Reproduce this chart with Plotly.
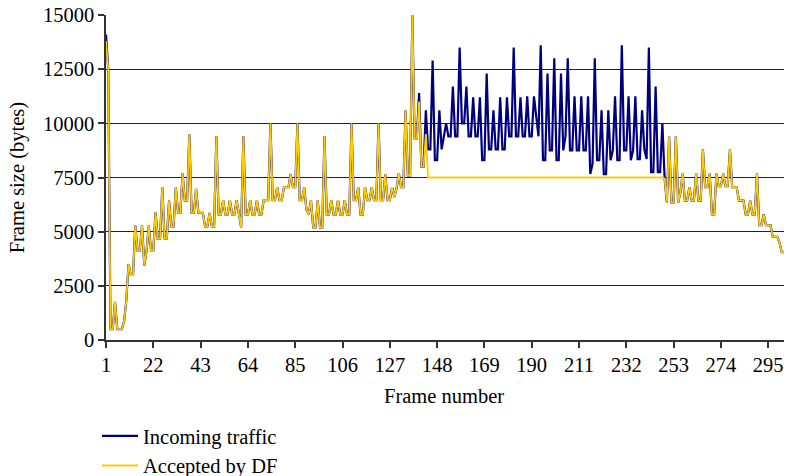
import plotly.graph_objects as go

# Frame sizes (bytes) for frames 1..302
incoming = [
    14100, 12500, 500, 500, 1760, 500, 500, 500, 840, 1800,
    3500, 3000, 3000, 5280, 4130, 4130, 5280, 3440, 4100, 5280,
    4130, 4130, 5890, 4670, 4670, 7060, 4690, 4690, 6430, 5240,
    5240, 7060, 5870, 5870, 7690, 6430, 6430, 9500, 5870, 5870,
    6980, 5870, 5870, 5870, 5240, 5240, 5870, 5240, 5240, 9400,
    5800, 5800, 6450, 5800, 5800, 6450, 5800, 5800, 6450, 5800,
    5200, 9400, 5800, 5800, 6450, 5800, 5800, 6450, 5800, 5800,
    6450, 6450, 6450, 10000, 6450, 6450, 7050, 6450, 6450, 7050,
    7050, 7050, 7660, 7050, 7050, 10000, 6450, 6450, 7050, 6000,
    5800, 6450, 5200, 5200, 6450, 5200, 5200, 9400, 5800, 5800,
    6450, 5800, 5800, 6450, 5800, 5800, 6450, 5800, 5800, 10000,
    6450, 6450, 7050, 5800, 5800, 7050, 6450, 6450, 7050, 6450,
    6450, 10000, 6450, 6450, 7660, 6450, 6450, 7050, 6600, 7000,
    7700, 7050, 7050, 10600, 7600, 7600, 15000, 9300, 9300, 11400,
    8000, 8000, 10600, 8800, 8800, 12900, 8300, 8300, 10600, 8800,
    9400, 10000, 9400, 9400, 11700, 9400, 9400, 13500, 10000, 10000,
    11700, 9400, 9400, 11200, 9400, 9400, 11200, 8300, 8300, 12300,
    8800, 8800, 10600, 8800, 8800, 11200, 8800, 8800, 11200, 9400,
    9400, 13500, 9400, 9400, 11200, 9400, 9400, 11250, 9400, 9400,
    11250, 10300, 9400, 13600, 8300, 8300, 12300, 8750, 8750, 13000,
    8300, 8300, 12300, 8750, 9400, 13000, 8750, 8750, 11250, 8750,
    8750, 11250, 8750, 8750, 11250, 7660, 8130, 13000, 8300, 8300,
    10600, 7660, 7660, 10600, 8300, 8750, 11250, 8300, 8300, 13600,
    8750, 8750, 11250, 8300, 8750, 11250, 8350, 8350, 10600, 8800,
    8350, 13500, 7750, 7750, 11700, 7750, 7750, 10000, 7450, 6350,
    9400, 6350, 6350, 9400, 6350, 6800, 7680, 6430, 6430, 7050,
    6430, 6430, 7680, 6430, 6430, 8800, 7050, 7050, 7680, 5800,
    5800, 7680, 7100, 7100, 7680, 7100, 7100, 8800, 7050, 7050,
    7050, 6430, 6430, 6430, 5800, 5800, 6430, 5800, 5800, 7680,
    5300, 5300, 5800, 5300, 5300, 5300, 4760, 4760, 4760, 4500,
    4050, 4050,
]

accepted = [
    13800, 12500, 500, 500, 1760, 500, 500, 500, 840, 1800,
    3500, 3000, 3000, 5280, 4130, 4130, 5280, 3440, 4100, 5280,
    4130, 4130, 5890, 4670, 4670, 7060, 4690, 4690, 6430, 5240,
    5240, 7060, 5870, 5870, 7690, 6430, 6430, 9500, 5870, 5870,
    6980, 5870, 5870, 5870, 5240, 5240, 5870, 5240, 5240, 9400,
    5800, 5800, 6450, 5800, 5800, 6450, 5800, 5800, 6450, 5800,
    5200, 9400, 5800, 5800, 6450, 5800, 5800, 6450, 5800, 5800,
    6450, 6450, 6450, 10000, 6450, 6450, 7050, 6450, 6450, 7050,
    7050, 7050, 7660, 7050, 7050, 10000, 6450, 6450, 7050, 6000,
    5800, 6450, 5200, 5200, 6450, 5200, 5200, 9400, 5800, 5800,
    6450, 5800, 5800, 6450, 5800, 5800, 6450, 5800, 5800, 10000,
    6450, 6450, 7050, 5800, 5800, 7050, 6450, 6450, 7050, 6450,
    6450, 10000, 6450, 6450, 7660, 6450, 6450, 7050, 6600, 7000,
    7700, 7050, 7050, 10600, 7600, 7600, 15000, 9300, 9300, 11000,
    8000, 8000, 9500, 7500, 7500, 7500, 7500, 7500, 7500, 7500,
    7500, 7500, 7500, 7500, 7500, 7500, 7500, 7500, 7500, 7500,
    7500, 7500, 7500, 7500, 7500, 7500, 7500, 7500, 7500, 7500,
    7500, 7500, 7500, 7500, 7500, 7500, 7500, 7500, 7500, 7500,
    7500, 7500, 7500, 7500, 7500, 7500, 7500, 7500, 7500, 7500,
    7500, 7500, 7500, 7500, 7500, 7500, 7500, 7500, 7500, 7500,
    7500, 7500, 7500, 7500, 7500, 7500, 7500, 7500, 7500, 7500,
    7500, 7500, 7500, 7500, 7500, 7500, 7500, 7500, 7500, 7500,
    7500, 7500, 7500, 7500, 7500, 7500, 7500, 7500, 7500, 7500,
    7500, 7500, 7500, 7500, 7500, 7500, 7500, 7500, 7500, 7500,
    7500, 7500, 7500, 7500, 7500, 7500, 7500, 7500, 7450, 6350,
    9400, 6350, 6350, 9400, 6350, 6800, 7680, 6430, 6430, 7050,
    6430, 6430, 7680, 6430, 6430, 8800, 7050, 7050, 7680, 5800,
    5800, 7680, 7100, 7100, 7680, 7100, 7100, 8800, 7050, 7050,
    7050, 6430, 6430, 6430, 5800, 5800, 6430, 5800, 5800, 7680,
    5300, 5300, 5800, 5300, 5300, 5300, 4760, 4760, 4760, 4500,
    4050, 4050,
]

frames = list(range(1, len(incoming) + 1))
x_ticks = [1, 22, 43, 64, 85, 106, 127, 148, 169, 190, 211, 232, 253, 274, 295]
y_ticks = [0, 2500, 5000, 7500, 10000, 12500, 15000]

FONT = "Liberation Serif"
FS = 20.5

fig = go.Figure()
fig.add_trace(go.Scatter(
    x=frames, y=incoming, mode="lines", name="Incoming traffic",
    line=dict(color="#00007f", width=2.2), hoverinfo="skip",
))
fig.add_trace(go.Scatter(
    x=frames, y=accepted, mode="lines", name="Accepted by DF",
    line=dict(color="#ffcc00", width=1.8), hoverinfo="skip",
))

# Axis titles as free-standing annotations for exact placement
fig.add_annotation(
    text="Frame size (bytes)", textangle=-90, showarrow=False,
    xref="paper", yref="paper", x=-0.13, y=0.50,
    xanchor="center", yanchor="middle",
    font=dict(family=FONT, size=FS),
)
fig.add_annotation(
    text="Frame number", showarrow=False,
    xref="paper", yref="paper", x=0.4985, y=-0.172,
    xanchor="center", yanchor="middle",
    font=dict(family=FONT, size=FS),
)

fig.update_layout(
    width=787, height=476,
    margin=dict(l=106, r=3, t=15, b=136, autoexpand=False),
    paper_bgcolor="white", plot_bgcolor="white",
    font=dict(family=FONT, size=FS, color="black"),
    showlegend=True,
    legend=dict(
        orientation="v", xref="container", x=97 / 787, xanchor="left",
        yref="container", y=1 - 416 / 476, yanchor="top",
        font=dict(family=FONT, size=FS), itemwidth=36,
        bgcolor="rgba(0,0,0,0)", tracegroupgap=0,
    ),
    xaxis=dict(
        range=[1, 302], tickmode="array", tickvals=x_ticks,
        ticktext=[str(t) for t in x_ticks],
        showgrid=False, zeroline=False,
        showline=True, linecolor="#333", linewidth=1.5,
        ticks="outside", ticklen=6, tickcolor="#333", tickwidth=1.5,
        tickfont=dict(family=FONT, size=FS),
    ),
    yaxis=dict(
        range=[0, 15000], tickmode="array", tickvals=y_ticks,
        ticktext=[str(t) for t in y_ticks],
        showgrid=True, gridcolor="#222", gridwidth=1.2, zeroline=False,
        showline=True, linecolor="#333", linewidth=1.5,
        ticks="outside", ticklen=6, tickcolor="#333", tickwidth=1.5,
        tickfont=dict(family=FONT, size=FS),
    ),
)

fig.write_html("out.html")
